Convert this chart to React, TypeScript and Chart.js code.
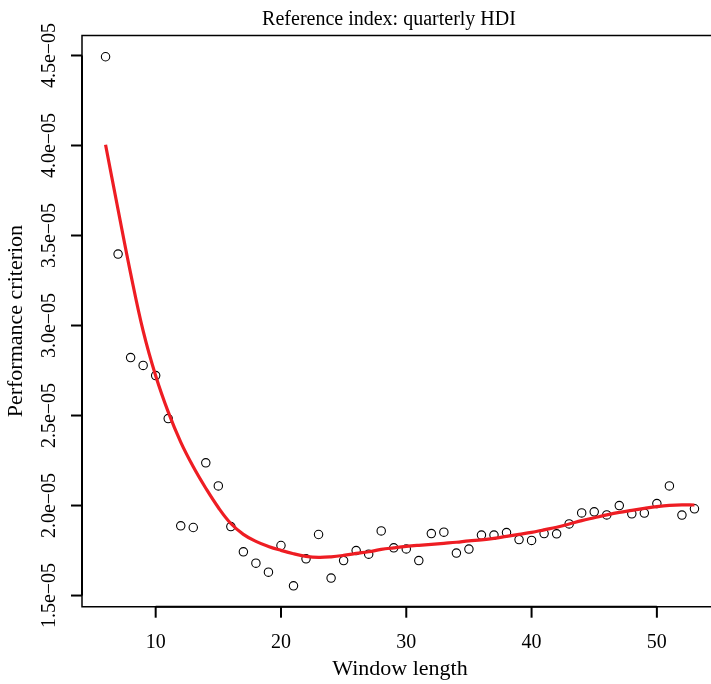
import React, { useEffect, useRef } from "react";
import { Chart, registerables } from "chart.js";

Chart.register(...registerables);

const windowLength = [6, 7, 8, 9, 10, 11, 12, 13, 14, 15, 16, 17, 18, 19, 20, 21, 22, 23, 24, 25, 26, 27, 28, 29, 30, 31, 32, 33, 34, 35, 36, 37, 38, 39, 40, 41, 42, 43, 44, 45, 46, 47, 48, 49, 50, 51, 52, 53];

const criterion = [
  4.493e-5, 3.397e-5, 2.822e-5, 2.778e-5, 2.722e-5, 2.483e-5, 1.887e-5, 1.878e-5,
  2.237e-5, 2.109e-5, 1.883e-5, 1.743e-5, 1.68e-5, 1.63e-5, 1.778e-5, 1.554e-5,
  1.704e-5, 1.839e-5, 1.597e-5, 1.694e-5, 1.75e-5, 1.73e-5, 1.859e-5, 1.765e-5,
  1.759e-5, 1.694e-5, 1.844e-5, 1.852e-5, 1.736e-5, 1.758e-5, 1.836e-5, 1.836e-5,
  1.85e-5, 1.811e-5, 1.806e-5, 1.844e-5, 1.843e-5, 1.898e-5, 1.959e-5, 1.965e-5,
  1.948e-5, 2.0e-5, 1.954e-5, 1.958e-5, 2.011e-5, 2.109e-5, 1.947e-5, 1.982e-5,
];

const smoothed = [
  4.004e-5, 3.643e-5, 3.29e-5, 2.97e-5, 2.721e-5, 2.52e-5, 2.352e-5, 2.215e-5,
  2.096e-5, 1.989e-5, 1.9e-5, 1.84e-5, 1.801e-5, 1.773e-5, 1.751e-5, 1.732e-5,
  1.718e-5, 1.712e-5, 1.715e-5, 1.723e-5, 1.734e-5, 1.743e-5, 1.756e-5, 1.765e-5,
  1.773e-5, 1.779e-5, 1.784e-5, 1.79e-5, 1.796e-5, 1.804e-5, 1.809e-5, 1.818e-5,
  1.829e-5, 1.84e-5, 1.851e-5, 1.865e-5, 1.879e-5, 1.897e-5, 1.916e-5, 1.932e-5,
  1.948e-5, 1.962e-5, 1.973e-5, 1.984e-5, 1.994e-5, 2.001e-5, 2.004e-5, 2.003e-5,
];

const xTicks = [10, 20, 30, 40, 50];
const xTickLabels = ["10", "20", "30", "40", "50"];
const yTicks = [1.5e-5, 2.0e-5, 2.5e-5, 3.0e-5, 3.5e-5, 4.0e-5, 4.5e-5];
const yTickLabels = ["1.5e\u221205", "2.0e\u221205", "2.5e\u221205", "3.0e\u221205", "3.5e\u221205", "4.0e\u221205", "4.5e\u221205"];

const titleText = "Reference index: quarterly HDI";
const xTitle = "Window length";
const yTitle = "Performance criterion";

const FONT = '"Liberation Serif", "Times New Roman", serif';

export default function App() {
  const ref = useRef<HTMLCanvasElement>(null);

  useEffect(() => {
    const canvas = ref.current;
    if (!canvas) return;

    const framePlugin = {
      id: "rframe",
      afterDraw(chart: any) {
        const { ctx, chartArea: a, scales } = chart;
        const xs = scales.x;
        const ys = scales.y;
        ctx.save();
        ctx.strokeStyle = "#000";
        ctx.fillStyle = "#000";
        // box: right side lies beyond the visible area
        ctx.lineWidth = 1.5;
        ctx.beginPath();
        ctx.moveTo(a.right + 10, a.top);
        ctx.lineTo(a.left, a.top);
        ctx.lineTo(a.left, a.bottom);
        ctx.lineTo(a.right + 10, a.bottom);
        ctx.stroke();

        // x axis
        ctx.lineWidth = 2;
        const x0 = xs.getPixelForValue(xTicks[0]);
        const x1 = xs.getPixelForValue(xTicks[xTicks.length - 1]);
        ctx.beginPath();
        ctx.moveTo(x0, a.bottom);
        ctx.lineTo(x1, a.bottom);
        ctx.stroke();
        ctx.font = `20px ${FONT}`;
        ctx.textAlign = "center";
        ctx.textBaseline = "alphabetic";
        xTicks.forEach((v, i) => {
          const px = xs.getPixelForValue(v);
          ctx.beginPath();
          ctx.moveTo(px, a.bottom);
          ctx.lineTo(px, a.bottom + 11);
          ctx.stroke();
          ctx.fillText(xTickLabels[i], px, a.bottom + 41);
        });

        // y axis
        const y0 = ys.getPixelForValue(yTicks[0]);
        const y1 = ys.getPixelForValue(yTicks[yTicks.length - 1]);
        ctx.beginPath();
        ctx.moveTo(a.left, y0);
        ctx.lineTo(a.left, y1);
        ctx.stroke();
        yTicks.forEach((v, i) => {
          const py = ys.getPixelForValue(v);
          ctx.beginPath();
          ctx.moveTo(a.left - 11, py);
          ctx.lineTo(a.left, py);
          ctx.stroke();
          ctx.save();
          ctx.translate(a.left - 27, py);
          ctx.rotate(-Math.PI / 2);
          ctx.fillText(yTickLabels[i], 0, 0);
          ctx.restore();
        });

        // titles, centred on the full plot region (its right edge is off-screen)
        const plotRight = xs.getPixelForValue(54.88);
        const cx = (a.left + plotRight) / 2;
        const cy = (a.top + a.bottom) / 2;
        ctx.font = `22px ${FONT}`;
        ctx.fillText(xTitle, cx, a.bottom + 68);
        ctx.save();
        ctx.translate(22, cy);
        ctx.rotate(-Math.PI / 2);
        ctx.fillText(yTitle, 0, 0);
        ctx.restore();

        ctx.font = `20px ${FONT}`;
        ctx.fillText(titleText, cx - 11, 25);
        ctx.restore();
      },
    };

    const chart = new Chart(canvas, {
      type: "scatter",
      data: {
        datasets: [
          {
            label: "smooth",
            data: windowLength.map((w, i) => ({ x: w, y: smoothed[i] })),
            showLine: true,
            borderColor: "#EE1D23",
            backgroundColor: "#EE1D23",
            borderWidth: 3.2,
            pointRadius: 0,
            tension: 0.4,
            fill: false,
          },
          {
            label: "criterion",
            data: windowLength.map((w, i) => ({ x: w, y: criterion[i] })),
            showLine: false,
            pointStyle: "circle",
            pointRadius: 4.2,
            pointBorderColor: "#000",
            pointBackgroundColor: "rgba(0,0,0,0)",
            pointBorderWidth: 1.1,
          },
        ],
      },
      options: {
        responsive: false,
        animation: false,
        devicePixelRatio: 1,
        events: [],
        layout: { autoPadding: false, padding: { left: 82, top: 35.5, right: 0, bottom: 77.3 } },
        scales: {
          x: { type: "linear", min: 4.12, max: 54.32, display: false },
          y: { type: "linear", min: 1.438e-5, max: 4.611e-5, display: false },
        },
        plugins: {
          legend: { display: false },
          tooltip: { enabled: false },
          title: { display: false },
        },
      },
      plugins: [framePlugin],
    } as any);

    return () => chart.destroy();
  }, []);

  return (
    <div
      style={{
        position: "absolute",
        left: 0,
        top: 0,
        width: 711,
        height: 684,
        overflow: "hidden",
        background: "#fff",
      }}
    >
      <canvas ref={ref} width={711} height={684} style={{ display: "block", width: 711, height: 684 }} />
    </div>
  );
}
